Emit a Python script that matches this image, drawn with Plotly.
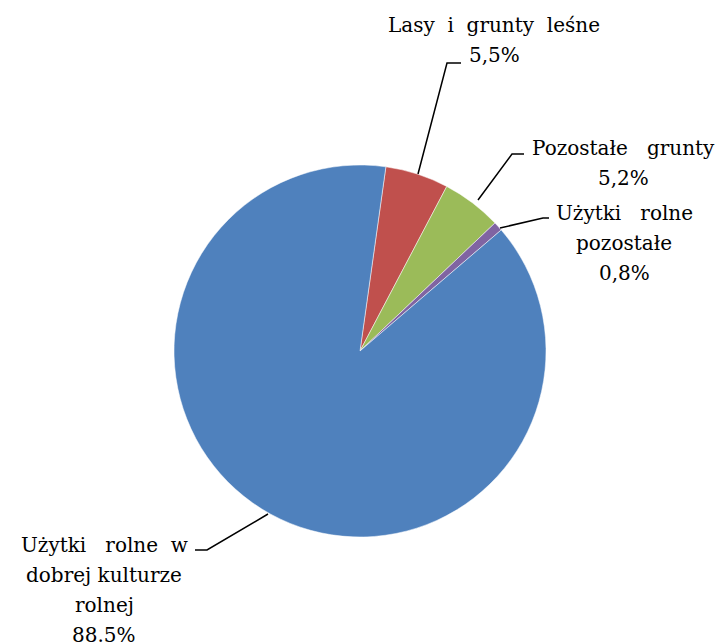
import plotly.graph_objects as go

labels = ["Lasy i grunty leśne", "Pozostałe grunty", "Użytki rolne pozostałe", "Użytki rolne w dobrej kulturze rolnej"]
values = [5.5, 5.2, 0.8, 88.5]
value_texts = ["5,5%", "5,2%", "0,8%", "88.5%"]
colors = ["#C0504D", "#9BBB59", "#8064A2", "#4F81BD"]

W, H = 721, 644
def px(x):
    return x / W
def py(y):
    return 1 - y / H

cx, cy, r = 360, 351, 186
FONT = "DejaVu Serif"

fig = go.Figure(go.Pie(
    labels=labels, values=values, sort=False, direction="clockwise",
    rotation=8, textinfo="none", hoverinfo="label+percent",
    marker=dict(colors=colors, line=dict(color="#ffffff", width=0.5)),
    domain=dict(x=[px(cx - r), px(cx + r)], y=[py(cy + r), py(cy - r)]),
    showlegend=False,
))

nb = "\u00a0"
label_lines = [
    [f"Lasy{nb} i{nb} grunty{nb} leśne", value_texts[0]],
    [f"Pozostałe{nb}{nb} grunty", value_texts[1]],
    [f"Użytki{nb}{nb} rolne", "pozostałe", value_texts[2]],
    [f"Użytki{nb}{nb} rolne{nb} w", "dobrej kulturze", "rolnej", value_texts[3]],
]
# label centre x, first-line centre y (pixels)
label_pos = [(494, 25), (623, 148), (624, 213), (104, 545)]
line_h = 30

annotations = []
for lines, (lx, ly) in zip(label_lines, label_pos):
    for i, t in enumerate(lines):
        annotations.append(dict(
            x=px(lx), y=py(ly + i * line_h), xref="paper", yref="paper",
            text=t, showarrow=False, xanchor="center", yanchor="middle",
            font=dict(family=FONT, size=20, color="#000000"),
        ))

leaders = [
    [(418, 174), (447, 63), (461, 63)],
    [(478, 200), (512, 154), (524, 154)],
    [(500, 228), (543, 218), (549, 218)],
    [(268, 514), (207, 550), (195, 550)],
]
shapes = []
for pts in leaders:
    path = "M " + " L ".join(f"{px(x)},{py(y)}" for x, y in pts)
    shapes.append(dict(type="path", path=path, xref="paper", yref="paper",
                       line=dict(color="#000000", width=1.5)))

fig.update_layout(
    width=W, height=H, margin=dict(l=0, r=0, t=0, b=0),
    paper_bgcolor="#ffffff", plot_bgcolor="#ffffff",
    font=dict(family=FONT),
    annotations=annotations, shapes=shapes,
)
fig.write_html("out.html", config={"displayModeBar": False},
               post_script="document.body.style.margin='0px';")
